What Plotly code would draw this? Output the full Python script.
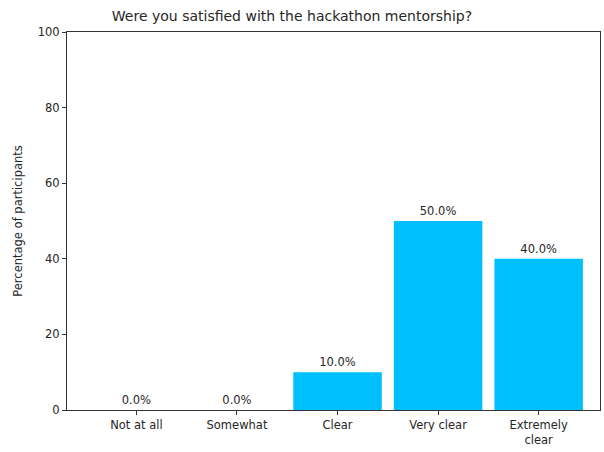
import plotly.graph_objects as go

# Survey responses
categories = ["Not at all", "Somewhat", "Clear", "Very clear", "Extremely<br>clear"]
percentages = [0.0, 0.0, 10.0, 50.0, 40.0]
y_ticks = [0, 20, 40, 60, 80, 100]

bar_color = "#00BFFF"
text_color = "#262626"
font_family = "DejaVu Sans, Arial, sans-serif"

x_pos = list(range(len(categories)))
labels = [f"{v:.1f}%" for v in percentages]

fig = go.Figure(
    go.Bar(
        x=x_pos,
        y=percentages,
        width=0.88,
        marker=dict(color=bar_color, line=dict(width=0)),
        text=labels,
        textposition="outside",
        textfont=dict(size=11.5, color=text_color, family=font_family),
        cliponaxis=False,
    )
)

fig.update_layout(
    width=604,
    height=452,
    margin=dict(l=67, r=4, t=32, b=42),
    plot_bgcolor="white",
    paper_bgcolor="white",
    showlegend=False,
    font=dict(family=font_family, size=11.5, color=text_color),
    title=dict(
        text="Were you satisfied with the hackathon mentorship?",
        font=dict(size=14, color=text_color, family=font_family),
        x=(292 - 67) / 533,
        xref="paper",
        xanchor="center",
        y=1 - 16 / 452,
        yanchor="middle",
    ),
)

fig.update_xaxes(
    range=[-0.69, 4.61],
    tickmode="array",
    tickvals=x_pos,
    ticktext=categories,
    ticks="outside",
    ticklen=4,
    tickcolor="#333333",
    showline=True,
    linecolor="#333333",
    linewidth=1,
    mirror=True,
    showgrid=False,
    zeroline=False,
    tickfont=dict(size=11.5, color=text_color),
)

fig.update_yaxes(
    range=[0, 100],
    tickmode="array",
    tickvals=y_ticks,
    ticks="outside",
    ticklen=4,
    tickcolor="#333333",
    showline=True,
    linecolor="#333333",
    linewidth=1,
    mirror=True,
    showgrid=False,
    zeroline=False,
    tickfont=dict(size=11.5, color=text_color),
    title=dict(text="Percentage of participants", font=dict(size=11.5, color=text_color), standoff=12),
)

fig.write_html("out.html")
